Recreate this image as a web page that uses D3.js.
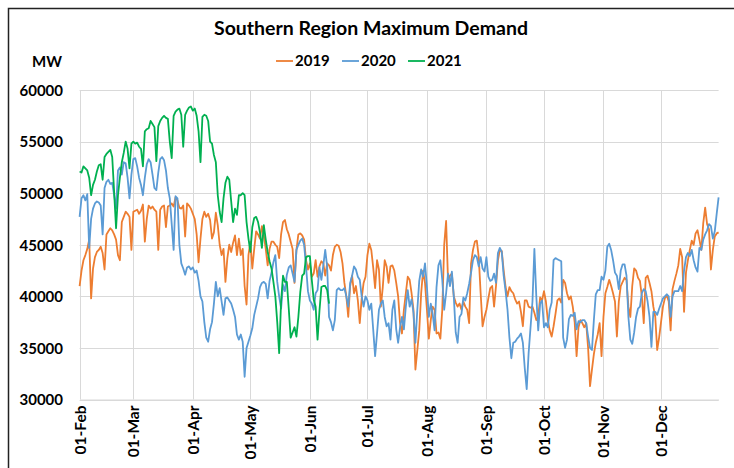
<!DOCTYPE html>
<html><head><meta charset="utf-8">
<script src="https://cdn.jsdelivr.net/npm/d3@7/dist/d3.min.js"></script>
<style>
html,body{margin:0;padding:0;background:#fff;}
svg text{font-family:"Lato","Open Sans",sans-serif;font-weight:bold;fill:#000;}
</style>
</head><body>
<svg id="chart" width="734" height="468"></svg>
<script>
// ---- data (MW, daily from 01-Feb) ----
const title = "Southern Region Maximum Demand";
const yUnit = "MW";
const seriesNames = ["2019", "2020", "2021"];
const seriesColors = ["#ED7D31", "#5B9BD5", "#00B050"];
const yTicks = [30000, 35000, 40000, 45000, 50000, 55000, 60000];
const monthTicks = ["01-Feb","01-Mar","01-Apr","01-May","01-Jun","01-Jul","01-Aug","01-Sep","01-Oct","01-Nov","01-Dec"];

const demand2019 = [
41000,42500,43500,44000,44600,45500,39800,42700,43800,44300,
44500,44800,44200,42600,46000,46300,46600,46400,46000,45500,
44000,43500,47200,47700,48200,48000,47700,44500,48200,48300,
48400,48000,48300,48900,45300,47500,48800,48500,48700,48400,
48200,44500,48400,48700,48800,46700,48700,48800,49000,48700,
49600,49300,48600,48500,48800,45800,49000,48800,48500,48000,
47500,46000,43300,45600,47500,48200,47700,48000,47400,45600,
46200,48100,46900,45000,44000,44600,41400,43700,45000,44300,
45200,45900,44000,45600,44000,44600,41000,39200,44000,45300,
42700,44600,46300,46000,45600,46800,45900,44600,43000,44600,
45300,45300,45000,44800,43700,46000,47200,47400,46500,46000,
45300,44600,41300,44500,46000,46100,45900,45500,43500,42600,
43200,41900,42200,43500,41900,42900,43400,43200,42000,43200,
43000,42500,44000,44800,45000,44900,44300,43200,41300,40000,
38000,41000,42000,40300,41000,39600,37400,39800,41300,41900,
44000,45100,44500,42800,40800,43500,42600,39000,40900,43500,
42900,41300,42900,43000,42500,41300,40000,37400,36400,38700,
40300,41900,41600,40300,38700,32900,34800,36700,40300,42500,
41300,38700,35900,37700,39000,38700,36400,36500,35900,38700,
45000,47300,41500,42000,42200,40000,39400,39000,39300,38700,
39500,39000,38700,37400,43200,44500,45300,45400,43800,40300,
37100,38000,38700,39800,40800,41000,39000,41000,43500,44500,
44400,42500,40900,40000,40900,40500,40300,39700,39300,39500,
38500,37100,39600,39600,39000,38900,39000,38400,37700,38000,
39900,39600,40500,39500,37700,36700,36100,37100,38300,39600,
39800,39400,41600,41300,40300,39700,40000,39000,37500,34200,
37000,37700,37400,37000,37400,35000,31300,32900,34400,35500,
36300,37400,34200,38000,40300,40900,41600,41000,40300,39500,
36100,39500,41000,41400,41800,41600,39000,38000,41000,42700,
42500,41800,41500,40000,37400,41800,42000,41300,40500,39000,
38000,34800,36000,37500,39000,39800,40100,39500,36700,40700,
41500,42200,43000,44600,43800,38500,42300,43500,44500,45400,
45000,46100,46400,45500,44500,47100,48600,47000,46500,42600,
44500,45800,46100,46200];

const demand2020 = [
47700,49500,49800,49300,49900,44700,47500,48500,49000,49200,
49100,48800,46000,50500,51100,51300,50900,51000,49800,48500,
52200,52500,51800,53000,52900,51500,49500,51800,53300,53400,
52600,51500,50800,49800,51500,52800,53300,53000,51800,50500,
50300,52000,53300,53500,53200,52200,50500,49500,47000,44500,
49700,49500,45000,43200,42700,42100,42800,42900,42600,42800,
42300,42500,41500,40000,39500,37500,36000,35600,36800,37500,
39300,41400,40000,40800,39500,38200,39800,39900,39600,39300,
38700,38000,36300,35800,36300,35600,32200,35000,35600,36200,
36900,38200,39000,39800,40900,41300,41400,41200,39800,41500,
42300,43300,44000,41400,40000,38800,41100,40500,42100,42800,
43000,42200,41400,44500,45000,45400,45600,45000,42900,40500,
39600,39300,38700,40300,40600,42800,41600,43000,44500,42900,
38000,37500,36700,37700,40600,40800,40600,40600,40800,40000,
39000,41300,42000,42900,42600,41900,41600,40000,39000,40000,
39600,38700,39300,36800,34200,36400,38700,39300,39600,38000,
37100,37400,35800,38700,39600,36800,35500,37000,38000,36800,
39000,40600,39000,39700,38400,35500,38700,41500,42600,41900,
43200,40900,38000,39300,38300,36700,40900,43000,43500,41600,
38700,40300,42200,41000,42400,40000,36500,35500,38000,38300,
39900,39600,40300,41200,42300,43500,44000,43800,42900,43800,
42700,42400,43800,41900,41500,41600,42200,41300,44200,44700,
44300,42000,40500,38700,36000,34000,35500,35600,35900,36100,
36400,35500,33000,31000,34500,37000,39500,44600,40000,36700,
39300,39600,37000,37400,37000,38700,39400,43500,43700,43600,
43500,43400,36000,35000,35800,37800,38200,38100,38400,36800,
37600,37500,37700,37700,37400,36100,35000,34800,37700,40200,
40600,40600,41900,41600,42500,44800,45100,44500,43500,42300,
42000,40700,42500,43100,43100,42000,38000,35800,35400,36500,
38000,38800,39000,40300,40700,40500,39500,38000,35100,38500,
38500,38200,38800,39300,39800,40000,40200,40000,38000,40000,
40500,40500,40500,41000,40500,42500,43800,44200,43900,44500,
43500,42800,42400,44700,44500,45500,46000,46400,47000,46800,
45600,46300,48000,49600];

const demand2021 = [
52100,52000,52600,52400,52200,51500,49800,50800,51300,52100,
52700,52800,51300,53500,53800,54000,54200,53500,50100,46600,
49800,51500,53000,53900,55000,54300,52400,54800,55000,54800,
54900,54500,54300,52600,56000,56200,56300,57000,56700,56400,
53100,56500,57000,57300,57500,57300,57200,55000,53400,57500,
57900,58100,58200,57600,54500,57600,58000,58300,58400,58000,
58200,57500,56000,53000,57400,57600,57500,57000,55000,54800,
53700,53000,49800,48200,47200,49500,51000,51600,51300,49200,
47200,48500,47900,49800,49800,50000,49800,47200,45600,44300,
46700,47600,47700,47200,46200,44700,46900,45500,44300,43400,
42700,41400,40000,37500,34500,39500,42000,41400,41400,38800,
36000,36500,37000,36100,38000,40400,42000,42200,43800,43900,
43900,41600,39700,39000,35800,38600,40900,41000,41000,40600,
39300];

const allSeries = [demand2019, demand2020, demand2021];

// ---- layout ----
const svg = d3.select("#chart");
const plot = {left: 79.6, right: 718.6, top: 90, bottom: 399.5};
const start = new Date(2019, 1, 1);
const end = new Date(2019, 11, 31);
const dayDate = i => d3.timeDay.offset(start, i);

const x = d3.scaleTime().domain([start, end]).range([plot.left, plot.right]);
const y = d3.scaleLinear().domain([30000, 60000]).range([plot.bottom, plot.top]);

// frame
svg.append("rect").attr("x", 8.5).attr("y", 8.5).attr("width", 740).attr("height", 480)
  .attr("fill", "none").attr("stroke", "#222").attr("stroke-width", 1.5);

// gridlines
const tickDates = monthTicks.map((m, i) => new Date(2019, 1 + i, 1));
svg.append("g").selectAll("line").data(yTicks).join("line")
  .attr("x1", plot.left).attr("x2", plot.right)
  .attr("y1", d => Math.round(y(d)) + 0.5).attr("y2", d => Math.round(y(d)) + 0.5)
  .attr("stroke", "#d9d9d9").attr("stroke-width", 1);
svg.append("g").selectAll("line").data(tickDates).join("line")
  .attr("x1", d => Math.round(x(d)) + 0.5).attr("x2", d => Math.round(x(d)) + 0.5)
  .attr("y1", plot.top).attr("y2", plot.bottom)
  .attr("stroke", "#d9d9d9").attr("stroke-width", 1);

// y axis labels
const yAxis = d3.axisLeft(y).tickValues(yTicks).tickSize(0).tickPadding(0).tickFormat(d3.format("d"));
const gy = svg.append("g").attr("transform", `translate(63,0)`).call(yAxis);
gy.select(".domain").remove();
gy.selectAll("text").attr("font-size", 15).attr("dy", "0.35em");

// x axis labels
const xAxis = d3.axisBottom(x).tickValues(tickDates).tickSize(0).tickFormat((d, i) => monthTicks[i]);
const gx = svg.append("g").attr("transform", `translate(0,${plot.bottom})`).call(xAxis);
gx.select(".domain").attr("stroke", "#d9d9d9");
gx.selectAll("text").attr("font-size", 15.5)
  .attr("transform", "rotate(-90)").attr("text-anchor", "end")
  .attr("x", -6).attr("y", 0).attr("dy", "0.35em");

// lines
const line = d3.line().x((d, i) => x(dayDate(i))).y(d => y(d));
allSeries.forEach((s, k) => {
  svg.append("path").datum(s).attr("d", line)
    .attr("fill", "none").attr("stroke", seriesColors[k])
    .attr("stroke-width", 1.8).attr("stroke-linejoin", "round");
});

// title
svg.append("text").attr("x", 371).attr("y", 35).attr("text-anchor", "middle")
  .attr("font-size", 19.5).text(title);
svg.append("text").attr("x", 47).attr("y", 67).attr("text-anchor", "middle")
  .attr("font-size", 15).text(yUnit);

// legend
const legendX = [276, 342, 408];
const lg = svg.append("g");
seriesNames.forEach((n, k) => {
  lg.append("line").attr("x1", legendX[k]).attr("x2", legendX[k] + 17)
    .attr("y1", 61).attr("y2", 61).attr("stroke", seriesColors[k]).attr("stroke-width", 1.8);
  lg.append("text").attr("x", legendX[k] + 19).attr("y", 66).attr("font-size", 15).text(n);
});
</script>
</body></html>
